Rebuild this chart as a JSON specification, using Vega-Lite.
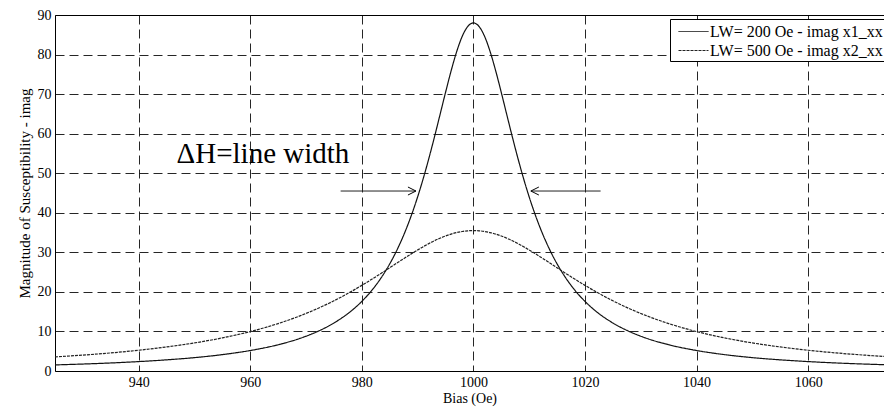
{
  "$schema": "https://vega.github.io/schema/vega-lite/v6.json",
  "width": 829,
  "height": 356,
  "autosize": {"type": "none"},
  "padding": {"left": 55, "top": 15, "right": 0, "bottom": 40},
  "background": "white",
  "config": {
    "font": "Liberation Serif",
    "view": {"stroke": null},
    "axis": {
      "labelFont": "Liberation Serif", "titleFont": "Liberation Serif",
      "labelColor": "#000", "titleColor": "#000", "domainColor": "#000",
      "gridColor": "#000", "gridDash": [9, 5], "gridWidth": 1, "gridOpacity": 0.85,
      "labelFontSize": 14, "titleFontSize": 14, "titleFontWeight": "normal", "ticks": false
    }
  },
  "resolve": {"axis": {"x": "independent", "y": "independent"}},
  "layer": [
    {
      "data": {"values": [
        {"bias": 925, "n": 1.54, "w": 3.55}, {"bias": 930, "n": 1.76, "w": 4.02}, {"bias": 935, "n": 2.03, "w": 4.57},
        {"bias": 940, "n": 2.38, "w": 5.25}, {"bias": 945, "n": 2.82, "w": 6.08}, {"bias": 950, "n": 3.38, "w": 7.1},
        {"bias": 955, "n": 4.14, "w": 8.37}, {"bias": 960, "n": 5.18, "w": 9.97}, {"bias": 965, "n": 6.64, "w": 11.99},
        {"bias": 969, "n": 8.29, "w": 13.99}, {"bias": 972, "n": 9.95, "w": 15.75}, {"bias": 975, "n": 12.14, "w": 17.75},
        {"bias": 978, "n": 15.07, "w": 20.01}, {"bias": 980, "n": 17.6, "w": 21.65}, {"bias": 982, "n": 20.75, "w": 23.38},
        {"bias": 984, "n": 24.72, "w": 25.18}, {"bias": 986, "n": 29.73, "w": 27.02}, {"bias": 988, "n": 36.07, "w": 28.85},
        {"bias": 990, "n": 44.0, "w": 30.6}, {"bias": 991, "n": 48.62, "w": 31.43}, {"bias": 992, "n": 53.66, "w": 32.2},
        {"bias": 993, "n": 59.06, "w": 32.92}, {"bias": 994, "n": 64.71, "w": 33.57}, {"bias": 995, "n": 70.4, "w": 34.13},
        {"bias": 996, "n": 75.86, "w": 34.61}, {"bias": 997, "n": 80.73, "w": 35.0}, {"bias": 998, "n": 84.62, "w": 35.27},
        {"bias": 999, "n": 87.13, "w": 35.44}, {"bias": 1000, "n": 88.0, "w": 35.5},
        {"bias": 1001, "n": 87.13, "w": 35.44}, {"bias": 1002, "n": 84.62, "w": 35.27}, {"bias": 1003, "n": 80.73, "w": 35.0},
        {"bias": 1004, "n": 75.86, "w": 34.61}, {"bias": 1005, "n": 70.4, "w": 34.13}, {"bias": 1006, "n": 64.71, "w": 33.57},
        {"bias": 1007, "n": 59.06, "w": 32.92}, {"bias": 1008, "n": 53.66, "w": 32.2}, {"bias": 1009, "n": 48.62, "w": 31.43},
        {"bias": 1010, "n": 44.0, "w": 30.6}, {"bias": 1012, "n": 36.07, "w": 28.85}, {"bias": 1014, "n": 29.73, "w": 27.02},
        {"bias": 1016, "n": 24.72, "w": 25.18}, {"bias": 1018, "n": 20.75, "w": 23.38}, {"bias": 1020, "n": 17.6, "w": 21.65},
        {"bias": 1022, "n": 15.07, "w": 20.01}, {"bias": 1025, "n": 12.14, "w": 17.75}, {"bias": 1028, "n": 9.95, "w": 15.75},
        {"bias": 1031, "n": 8.29, "w": 13.99}, {"bias": 1035, "n": 6.64, "w": 11.99}, {"bias": 1040, "n": 5.18, "w": 9.97},
        {"bias": 1045, "n": 4.14, "w": 8.37}, {"bias": 1050, "n": 3.38, "w": 7.1}, {"bias": 1055, "n": 2.82, "w": 6.08},
        {"bias": 1060, "n": 2.38, "w": 5.25}, {"bias": 1065, "n": 2.03, "w": 4.57}, {"bias": 1070, "n": 1.76, "w": 4.02},
        {"bias": 1075, "n": 1.54, "w": 3.55}
      ]},
      "transform": [{"fold": ["n", "w"], "as": ["series", "chi"]}],
      "mark": {"type": "line", "interpolate": "monotone", "strokeWidth": 1.2, "clip": true},
      "encoding": {
        "x": {"field": "bias", "type": "quantitative",
          "scale": {"domain": [925, 1073.6], "nice": false, "zero": false},
          "axis": {"values": [940, 960, 980, 1000, 1020, 1040, 1060], "title": "Bias (Oe)", "grid": true, "labelPadding": 4, "titlePadding": 2, "format": "d"}},
        "y": {"field": "chi", "type": "quantitative",
          "scale": {"domain": [0, 90], "nice": false},
          "axis": {"values": [0, 10, 20, 30, 40, 50, 60, 70, 80, 90], "title": "Magnitude of Susceptibility - imag", "titleFontSize": 15, "grid": true, "labelPadding": 4, "titlePadding": 5}},
        "color": {"field": "series", "type": "nominal",
          "scale": {"domain": ["n", "w"], "range": ["#111111", "#222222"]},
          "legend": {"title": null, "orient": "none", "legendX": 615, "legendY": 4, "direction": "vertical",
            "strokeColor": "#000", "fillColor": "#fff", "padding": 2, "symbolType": "M-0.4,0L2.6,0", "symbolSize": 400,
            "symbolStrokeWidth": 1, "labelFontSize": 16, "labelFont": "Liberation Serif", "labelColor": "#000",
            "rowPadding": 0, "labelOffset": 17, "labelLimit": 0,
            "labelExpr": "datum.label == 'n' ? 'LW= 200 Oe - imag x1_xx' : 'LW= 500 Oe - imag x2_xx'"}},
        "strokeDash": {"field": "series", "type": "nominal",
          "scale": {"domain": ["n", "w"], "range": [[1, 0], [3, 1]]},
          "legend": {"title": null, "orient": "none", "legendX": 615, "legendY": 4, "direction": "vertical",
            "strokeColor": "#000", "fillColor": "#fff", "padding": 2, "symbolType": "M-0.4,0L2.6,0", "symbolSize": 400,
            "symbolStrokeWidth": 1, "labelFontSize": 16, "labelFont": "Liberation Serif", "labelColor": "#000",
            "rowPadding": 0, "labelOffset": 17, "labelLimit": 0,
            "labelExpr": "datum.label == 'n' ? 'LW= 200 Oe - imag x1_xx' : 'LW= 500 Oe - imag x2_xx'"}}
      }
    },
    {
      "data": {"values": [
        {"x1": 976.2, "x2": 989.7, "y": 45.5, "d": "r"},
        {"x1": 1022.8, "x2": 1010.3, "y": 45.5, "d": "l"}
      ]},
      "mark": {"type": "rule", "color": "#222", "strokeWidth": 1},
      "encoding": {
        "x": {"field": "x1", "type": "quantitative",
          "scale": {"domain": [925, 1073.6], "nice": false, "zero": false},
          "axis": {"orient": "top", "labels": false, "grid": false, "title": null, "domain": true, "ticks": false}},
        "x2": {"field": "x2"},
        "y": {"field": "y", "type": "quantitative", "scale": {"domain": [0, 90], "nice": false}, "axis": null}
      }
    },
    {
      "data": {"values": [
        {"x2": 989.7, "y": 45.5, "d": "r"},
        {"x2": 1010.3, "y": 45.5, "d": "l"}
      ]},
      "mark": {"type": "point", "filled": false, "color": "#000", "strokeWidth": 1, "size": 256, "opacity": 1},
      "encoding": {
        "x": {"field": "x2", "type": "quantitative", "scale": {"domain": [925, 1073.6], "nice": false, "zero": false}, "axis": null},
        "y": {"field": "y", "type": "quantitative", "scale": {"domain": [0, 90], "nice": false}, "axis": null},
        "shape": {"field": "d", "type": "nominal",
          "scale": {"domain": ["r", "l"], "range": ["M-1,-0.5L0,0L-1,0.5", "M1,-0.5L0,0L1,0.5"]}, "legend": null}
      }
    },
    {
      "data": {"values": [{"x": 946.8, "y": 52.5, "t": "ΔH=line width"}]},
      "mark": {"type": "text", "align": "left", "baseline": "alphabetic", "fontSize": 29, "font": "Liberation Serif", "color": "#000"},
      "encoding": {
        "x": {"field": "x", "type": "quantitative", "scale": {"domain": [925, 1073.6], "nice": false, "zero": false}, "axis": null},
        "y": {"field": "y", "type": "quantitative", "scale": {"domain": [0, 90], "nice": false}, "axis": null},
        "text": {"field": "t"}
      }
    }
  ]
}
